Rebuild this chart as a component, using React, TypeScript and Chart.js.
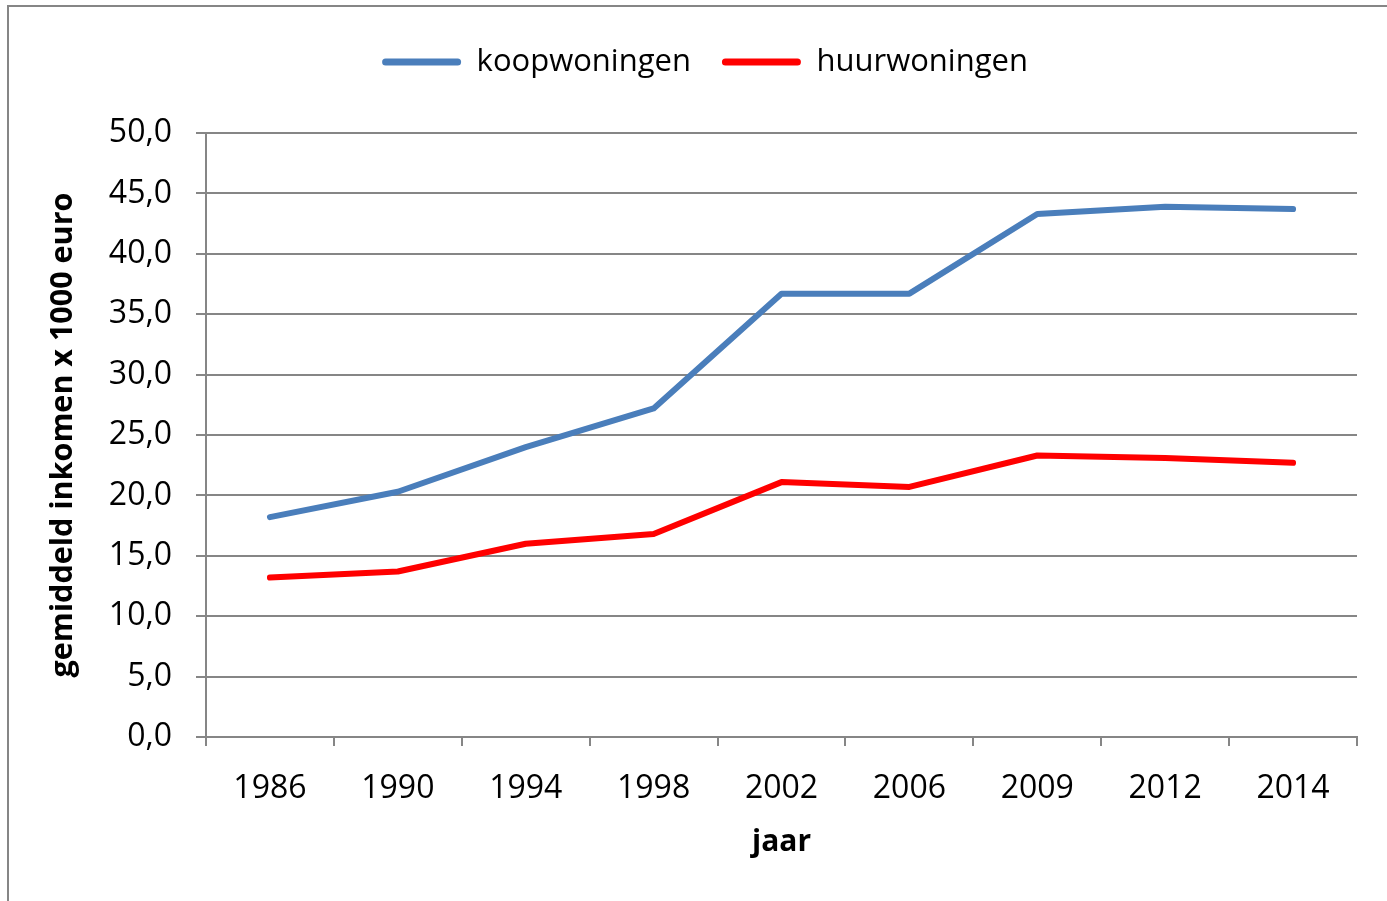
import React, { useEffect, useRef } from "react";
import { Chart, registerables } from "chart.js";

Chart.register(...registerables);

const years = ["1986", "1990", "1994", "1998", "2002", "2006", "2009", "2012", "2014"];
const koopwoningen = [18.2, 20.3, 24.0, 27.2, 36.7, 36.7, 43.3, 43.9, 43.7];
const huurwoningen = [13.2, 13.7, 16.0, 16.8, 21.1, 20.7, 23.3, 23.1, 22.7];
const seriesNames = ["koopwoningen", "huurwoningen"];
const seriesColors = ["#4A7EBB", "#FF0000"];
const yTitle = "gemiddeld inkomen x 1000 euro";
const xTitle = "jaar";

const GRID = "#868686";
const W = 1387;
const H = 901;

export default function App() {
  const ref = useRef<HTMLCanvasElement | null>(null);

  useEffect(() => {
    if (!ref.current) return;
    Chart.defaults.font.family = "'Open Sans', 'Noto Sans', sans-serif";
    Chart.defaults.color = "#000000";
    const chart = new Chart(ref.current, {
      type: "line",
      data: {
        labels: years,
        datasets: [koopwoningen, huurwoningen].map((d, i) => ({
          label: seriesNames[i],
          data: d,
          borderColor: seriesColors[i],
          backgroundColor: seriesColors[i],
          borderWidth: 6,
          borderCapStyle: "round" as const,
          borderJoinStyle: "round" as const,
          pointRadius: 0,
          pointHoverRadius: 0,
          tension: 0,
        })),
      },
      options: {
        responsive: false,
        animation: false,
        layout: { padding: { left: 53, right: 30, top: 15.5, bottom: 0 } },
        plugins: {
          tooltip: { enabled: false },
          legend: {
            position: "top",
            labels: {
              font: { size: 31 },
              boxWidth: 79,
              boxHeight: 7,
              padding: 31,
              useBorderRadius: true,
              borderRadius: 3.5,
              generateLabels: (c: any) =>
                Chart.defaults.plugins.legend.labels
                  .generateLabels(c)
                  .map((l: any) => ({ ...l, lineWidth: 0 })),
            },
          },
          title: {
            display: true,
            text: "",
            weight: 500,
            font: { size: 10, lineHeight: 1 },
            padding: { top: 35.5, bottom: 0 },
          } as any,
        },
        scales: {
          x: {
            type: "category",
            offset: true,
            afterFit: (s: any) => {
              s.height = 164;
            },
            grid: {
              offset: true,
              drawOnChartArea: false,
              drawTicks: true,
              tickLength: 9,
              tickWidth: 2,
              tickColor: GRID,
              color: GRID,
              lineWidth: 2,
            },
            border: { display: true, color: GRID, width: 2 },
            ticks: { font: { size: 32 }, padding: 24, maxRotation: 0, color: "#000" },
            title: {
              display: true,
              text: xTitle,
              font: { size: 30, weight: "bold" },
              padding: { top: 0, bottom: 41 },
              color: "#000",
            },
          },
          y: {
            min: 0,
            max: 50,
            afterFit: (s: any) => {
              s.width = 153;
            },
            grid: {
              color: GRID,
              lineWidth: 2,
              drawTicks: true,
              tickLength: 10,
              tickColor: GRID,
              tickWidth: 2,
            },
            border: { display: true, color: GRID, width: 2 },
            ticks: {
              stepSize: 5,
              font: { size: 32 },
              padding: 24,
              color: "#000",
              callback: (v: any) => Number(v).toFixed(1).replace(".", ","),
            },
            title: {
              display: true,
              text: yTitle,
              font: { size: 30.5, weight: "bold" },
              padding: { top: -8, bottom: 0 },
              color: "#000",
            },
          },
        },
      },
    });
    return () => chart.destroy();
  }, []);

  return (
    <div
      style={{
        position: "absolute",
        left: 0,
        top: 0,
        width: W,
        height: H,
        overflow: "hidden",
        background: "#fff",
      }}
    >
      <div
        style={{
          position: "absolute",
          left: 7,
          top: 5,
          width: W + 50,
          height: H + 50,
          borderLeft: `2px solid ${GRID}`,
          borderTop: `2px solid ${GRID}`,
        }}
      />
      <canvas
        ref={ref}
        width={W}
        height={H}
        style={{ position: "absolute", left: 0, top: 0, width: W, height: H }}
      />
    </div>
  );
}
